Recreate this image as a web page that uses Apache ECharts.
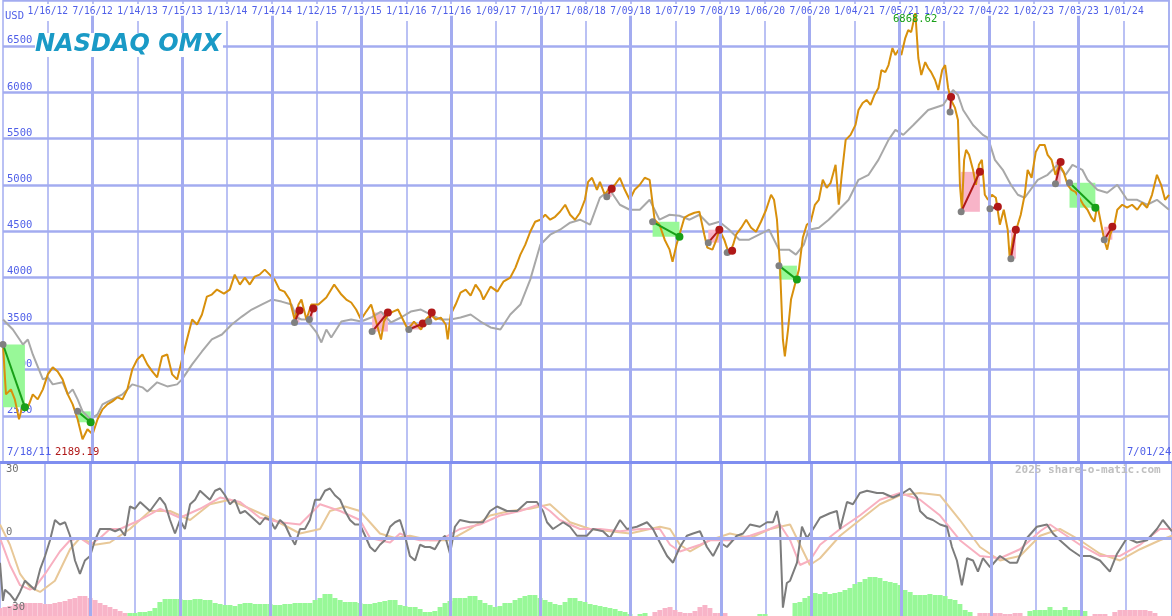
<!DOCTYPE html>
<html><head><meta charset="utf-8">
<script src="https://cdn.jsdelivr.net/npm/echarts@6/dist/echarts.min.js"></script>
<style>html,body{margin:0;padding:0;background:#fff}#c{width:1172px;height:616px}</style>
</head><body><div id="c"></div>
<script>
// x values: days since 7/18/11
const tickLabels = ["","1/16/12","7/16/12","1/14/13","7/15/13","1/13/14","7/14/14","1/12/15","7/13/15","1/11/16","7/11/16","1/09/17","7/10/17","1/08/18","7/09/18","1/07/19","7/08/19","1/06/20","7/06/20","1/04/21","7/05/21","1/03/22","7/04/22","1/02/23","7/03/23","1/01/24","7/01/24"];
const priceIndex = [[0,3272],[12,2732],[32,2786],[48,2678],[65,2462],[81,2624],[101,2592],[121,2732],[141,2678],[162,2786],[182,2948],[202,3024],[222,2980],[242,2894],[263,2732],[283,2624],[303,2462],[323,2246],[343,2354],[364,2300],[384,2462],[404,2570],[424,2624],[444,2656],[465,2700],[485,2678],[505,2786],[525,3002],[545,3110],[566,3164],[586,3056],[606,2980],[626,2916],[646,3142],[667,3164],[687,2948],[707,2894],[727,3110],[747,3326],[768,3542],[788,3488],[808,3596],[828,3790],[848,3812],[869,3866],[897,3823],[921,3866],[941,4028],[962,3920],[982,3996],[1002,3920],[1022,4006],[1042,4028],[1063,4082],[1083,4028],[1103,3974],[1123,3866],[1143,3844],[1164,3758],[1184,3542],[1200,3704],[1212,3758],[1232,3542],[1252,3704],[1281,3704],[1313,3780],[1345,3920],[1374,3812],[1394,3758],[1414,3726],[1434,3650],[1454,3542],[1475,3628],[1495,3704],[1515,3520],[1535,3326],[1547,3520],[1563,3596],[1584,3628],[1604,3650],[1624,3542],[1644,3434],[1669,3520],[1697,3434],[1717,3542],[1737,3596],[1757,3542],[1778,3563],[1798,3488],[1806,3326],[1818,3596],[1838,3704],[1858,3834],[1879,3866],[1899,3801],[1919,3920],[1939,3844],[1951,3758],[1980,3898],[2008,3844],[2032,3952],[2060,3996],[2081,4104],[2101,4244],[2121,4352],[2141,4492],[2161,4600],[2182,4622],[2202,4676],[2222,4622],[2242,4654],[2262,4708],[2283,4784],[2303,4676],[2323,4622],[2343,4698],[2363,4838],[2376,5032],[2392,5076],[2412,4946],[2424,5032],[2444,4892],[2464,4968],[2485,5000],[2505,5076],[2525,4946],[2545,4838],[2565,4946],[2586,5000],[2606,5076],[2626,5054],[2646,4622],[2666,4568],[2687,4406],[2707,4298],[2719,4168],[2735,4352],[2747,4460],[2767,4644],[2788,4676],[2808,4698],[2828,4708],[2848,4460],[2860,4320],[2881,4298],[2897,4406],[2909,4514],[2929,4406],[2949,4244],[2965,4352],[2977,4460],[2998,4536],[3018,4622],[3038,4536],[3058,4492],[3078,4600],[3099,4730],[3119,4892],[3131,4838],[3143,4622],[3155,4136],[3167,3326],[3175,3142],[3188,3434],[3200,3758],[3216,3920],[3232,4082],[3248,4428],[3264,4568],[3280,4600],[3297,4784],[3313,4838],[3329,5054],[3345,4968],[3361,5022],[3381,5216],[3394,4784],[3406,5108],[3422,5486],[3442,5540],[3462,5648],[3474,5810],[3491,5886],[3507,5918],[3523,5864],[3539,5972],[3555,6048],[3567,6242],[3583,6220],[3596,6296],[3612,6480],[3624,6404],[3636,6458],[3648,6404],[3664,6588],[3676,6674],[3688,6652],[3705,6858],[3717,6372],[3729,6188],[3745,6328],[3757,6264],[3769,6220],[3785,6134],[3798,6026],[3814,6242],[3826,6296],[3838,6048],[3850,5918],[3866,5832],[3878,5702],[3886,5000],[3894,4730],[3903,5270],[3911,5378],[3923,5324],[3939,5162],[3951,5000],[3963,5216],[3975,5270],[3987,4892],[4000,4838],[4016,4892],[4032,4860],[4048,4568],[4064,4730],[4080,4514],[4088,4212],[4101,4406],[4117,4536],[4133,4676],[4149,4892],[4161,5162],[4177,5076],[4194,5356],[4210,5432],[4230,5432],[4242,5324],[4258,5270],[4274,5108],[4290,5216],[4307,5140],[4323,5000],[4339,4946],[4355,4924],[4371,4860],[4387,4784],[4404,4730],[4420,4644],[4432,4600],[4444,4784],[4460,4568],[4472,4406],[4484,4298],[4496,4460],[4513,4568],[4525,4730],[4545,4784],[4565,4752],[4585,4784],[4606,4730],[4626,4806],[4646,4752],[4666,4892],[4686,5108],[4703,5000],[4719,4838],[4735,4892]];
const benchmark = [[0,3542],[40,3434],[81,3272],[101,3326],[121,3164],[162,2894],[182,2916],[202,2840],[242,2862],[263,2732],[283,2786],[303,2678],[323,2548],[356,2462],[384,2516],[404,2624],[444,2678],[485,2732],[525,2840],[566,2808],[586,2764],[626,2862],[667,2818],[707,2840],[727,2894],[768,3056],[808,3196],[848,3326],[889,3380],[929,3488],[970,3574],[1010,3650],[1050,3704],[1091,3758],[1131,3736],[1172,3704],[1192,3564],[1212,3542],[1232,3542],[1273,3402],[1293,3294],[1313,3434],[1333,3348],[1374,3520],[1414,3542],[1454,3520],[1495,3564],[1535,3628],[1576,3510],[1616,3564],[1656,3628],[1697,3650],[1737,3596],[1778,3542],[1818,3542],[1858,3564],[1899,3596],[1939,3520],[1980,3456],[2020,3434],[2060,3596],[2101,3704],[2141,3974],[2182,4352],[2222,4460],[2262,4514],[2303,4590],[2343,4622],[2384,4568],[2424,4860],[2464,4946],[2505,4784],[2545,4730],[2586,4730],[2626,4838],[2666,4622],[2707,4676],[2747,4665],[2788,4622],[2828,4676],[2868,4568],[2909,4600],[2949,4514],[2990,4406],[3030,4406],[3070,4460],[3111,4514],[3151,4298],[3192,4298],[3220,4244],[3252,4352],[3272,4514],[3313,4536],[3353,4622],[3394,4730],[3414,4784],[3434,4838],[3474,5054],[3515,5108],[3555,5270],[3596,5486],[3624,5594],[3656,5540],[3697,5648],[3757,5810],[3818,5864],[3858,6026],[3878,5972],[3899,5810],[3939,5648],[3979,5540],[4000,5508],[4028,5270],[4060,5162],[4093,5000],[4121,4892],[4149,4860],[4202,5054],[4242,5108],[4282,5216],[4315,5108],[4343,5216],[4383,5162],[4404,5054],[4444,4946],[4484,4914],[4525,5000],[4565,4838],[4606,4838],[4646,4784],[4686,4838],[4735,4730]];
const oscillator = [[0,-11],[12,-28],[20,-23],[40,-25],[61,-28],[81,-24],[101,-19],[121,-21],[141,-23],[162,-14],[182,-8],[202,-1],[222,8],[242,6],[263,7],[283,1],[303,-10],[323,-16],[343,-10],[364,-8],[384,-1],[404,4],[424,4],[444,4],[465,3],[485,4],[505,1],[525,14],[545,13],[566,16],[586,14],[606,12],[626,15],[646,18],[667,15],[687,8],[707,2],[727,8],[747,4],[768,15],[788,17],[808,21],[828,19],[848,17],[869,21],[889,22],[909,19],[929,15],[949,17],[970,11],[990,12],[1010,10],[1030,8],[1050,6],[1071,9],[1091,8],[1111,4],[1131,8],[1151,6],[1172,1],[1192,-3],[1212,4],[1232,4],[1252,8],[1273,17],[1293,17],[1313,21],[1333,22],[1353,19],[1374,17],[1394,12],[1414,8],[1434,6],[1454,6],[1475,1],[1495,-4],[1515,-6],[1535,-3],[1555,-1],[1576,5],[1596,7],[1616,8],[1636,1],[1656,-8],[1677,-10],[1697,-3],[1717,-4],[1737,-4],[1757,-5],[1778,-1],[1798,1],[1818,-7],[1838,5],[1858,8],[1899,7],[1951,7],[1980,12],[2008,14],[2048,12],[2089,12],[2129,16],[2169,16],[2194,12],[2210,7],[2234,4],[2275,7],[2303,5],[2331,1],[2371,1],[2396,4],[2436,3],[2464,0],[2505,8],[2533,4],[2573,5],[2614,7],[2638,4],[2666,-2],[2695,-8],[2719,-11],[2747,-4],[2775,1],[2800,2],[2828,3],[2856,-4],[2881,-8],[2909,-2],[2937,-4],[2977,1],[3002,2],[3030,6],[3070,5],[3099,7],[3123,7],[3139,12],[3151,5],[3163,-31],[3179,-20],[3192,-19],[3220,-11],[3240,5],[3260,0],[3285,4],[3313,9],[3353,11],[3381,12],[3394,4],[3422,16],[3446,15],[3474,20],[3503,21],[3543,20],[3567,20],[3608,18],[3648,20],[3676,22],[3705,18],[3717,12],[3745,9],[3769,8],[3798,6],[3826,5],[3846,-4],[3866,-10],[3886,-21],[3907,-9],[3931,-10],[3951,-15],[3971,-9],[4000,-13],[4040,-8],[4080,-11],[4109,-11],[4149,0],[4189,5],[4230,6],[4254,2],[4282,-1],[4323,-5],[4363,-8],[4404,-8],[4444,-10],[4484,-15],[4513,-7],[4553,0],[4593,-2],[4634,-1],[4674,4],[4698,8],[4735,3]];
const fastAvg = [[0,0],[40,-12],[81,-21],[121,-23],[141,-22],[182,-16],[242,-6],[283,-1],[323,0],[364,-3],[404,0],[444,4],[485,4],[566,8],[646,13],[727,9],[808,13],[889,18],[970,16],[1050,9],[1131,7],[1212,6],[1293,15],[1374,12],[1454,8],[1495,0],[1535,-1],[1576,-2],[1616,2],[1656,0],[1697,-1],[1778,-1],[1858,4],[1939,6],[2020,10],[2101,12],[2182,15],[2222,12],[2262,8],[2343,4],[2424,4],[2505,3],[2586,4],[2666,4],[2707,-3],[2747,-6],[2828,-3],[2868,-1],[2949,-1],[3030,1],[3111,4],[3151,6],[3192,-1],[3232,-12],[3272,-10],[3313,-3],[3394,4],[3474,10],[3555,17],[3636,20],[3717,17],[3798,10],[3878,-1],[3959,-8],[4040,-9],[4121,-5],[4202,3],[4242,6],[4282,3],[4363,-3],[4444,-8],[4525,-8],[4606,-3],[4686,4],[4735,4]];
const slowAvg = [[0,6],[40,-3],[81,-16],[121,-22],[162,-24],[222,-19],[283,-5],[323,0],[384,-3],[444,-2],[525,4],[606,12],[687,12],[768,8],[848,15],[929,17],[1010,13],[1091,9],[1212,2],[1293,4],[1333,12],[1394,14],[1454,12],[1535,2],[1596,0],[1656,1],[1737,-1],[1818,-1],[1899,4],[1980,10],[2060,12],[2141,13],[2222,15],[2303,7],[2384,4],[2464,3],[2545,2],[2666,5],[2707,4],[2747,-3],[2788,-6],[2868,-1],[2949,2],[3030,0],[3111,4],[3192,6],[3232,-3],[3272,-12],[3313,-9],[3394,1],[3474,8],[3555,15],[3636,19],[3717,20],[3798,19],[3878,8],[3959,-4],[4040,-10],[4121,-8],[4202,1],[4282,4],[4363,-1],[4444,-7],[4525,-10],[4606,-5],[4686,-1],[4735,1]];
const momentum = [[0,-8],[20,-9],[40,-10],[61,-12],[81,-12],[101,-13],[121,-13],[141,-13],[162,-13],[182,-12],[202,-12],[222,-13],[242,-14],[263,-15],[283,-17],[303,-18],[323,-20],[343,-20],[364,-18],[384,-16],[404,-13],[424,-11],[444,-9],[465,-7],[485,-5],[505,-3],[525,3],[545,3],[566,4],[586,4],[606,5],[626,8],[646,14],[667,17],[687,17],[707,17],[727,17],[747,16],[768,16],[788,17],[808,17],[828,16],[848,16],[869,13],[889,12],[909,11],[929,11],[949,10],[970,12],[990,13],[1010,13],[1030,12],[1050,12],[1071,12],[1091,12],[1111,11],[1131,11],[1151,12],[1172,12],[1192,13],[1212,13],[1232,13],[1252,13],[1273,16],[1293,18],[1313,22],[1333,22],[1353,18],[1374,16],[1394,14],[1414,14],[1434,14],[1454,13],[1475,12],[1495,12],[1515,13],[1535,14],[1555,15],[1576,16],[1596,16],[1616,11],[1636,10],[1656,9],[1677,9],[1697,7],[1717,4],[1737,4],[1757,5],[1778,9],[1798,13],[1818,15],[1838,18],[1858,18],[1879,18],[1899,20],[1919,20],[1939,16],[1959,13],[1980,11],[2000,9],[2020,10],[2040,13],[2060,13],[2081,16],[2101,18],[2121,20],[2141,21],[2161,21],[2182,18],[2202,16],[2222,14],[2242,12],[2262,11],[2283,14],[2303,18],[2323,18],[2343,15],[2363,14],[2384,12],[2404,11],[2424,10],[2444,9],[2464,8],[2485,7],[2505,5],[2525,4],[2545,2],[2586,2],[2606,3],[2646,-4],[2666,-6],[2687,-8],[2707,-9],[2727,-6],[2747,-4],[2767,-3],[2788,-3],[2808,-5],[2828,-9],[2848,-11],[2868,-8],[2889,-3],[2909,-3],[2929,-3],[3070,2],[3091,2],[3212,13],[3232,14],[3252,18],[3272,20],[3293,23],[3313,22],[3333,24],[3353,22],[3373,23],[3394,24],[3414,26],[3434,28],[3454,32],[3474,34],[3495,37],[3515,39],[3535,39],[3555,38],[3576,35],[3596,34],[3616,33],[3636,31],[3656,26],[3677,24],[3697,21],[3717,21],[3737,21],[3757,22],[3778,21],[3798,21],[3818,20],[3838,17],[3858,16],[3878,12],[3899,6],[3919,4],[3959,-3],[3979,-3],[4000,-3],[4020,-3],[4040,-3],[4060,-2],[4080,-2],[4101,-3],[4121,-3],[4161,5],[4182,6],[4202,6],[4222,6],[4242,9],[4262,6],[4282,6],[4303,9],[4323,6],[4343,6],[4363,6],[4383,5],[4424,-2],[4444,-2],[4464,-2],[4504,-4],[4525,-6],[4545,-6],[4565,-6],[4585,-6],[4606,-6],[4626,-6],[4646,-5],[4666,-3]];
// signals: [startDay, startValue, endDay, endValue]
const signalsDown = [[0,3272,89,2592],[303,2548,356,2430],[2638,4600,2747,4438],[3151,4125,3224,3974],[4331,5022,4436,4752]];
const signalsUp = [[1184,3510,1204,3640],[1244,3542,1260,3661],[1499,3412,1563,3618],[1648,3434,1705,3499],[1729,3520,1741,3618],[2452,4870,2472,4957],[2864,4374,2909,4514],[2941,4266,2961,4287],[3846,5788,3850,5950],[3891,4708,3967,5140],[4008,4741,4040,4762],[4093,4201,4113,4514],[4274,5011,4295,5248],[4472,4406,4505,4546]];
const yTicks = [2500,3000,3500,4000,4500,5000,5500,6000,6500];

const GRID='#a3acf0', BLUE='#4f5fe8', MONO='"DejaVu Sans Mono", monospace';
const STEP=182, XMAX=4735, YMIN=2000, YMAX=7000, LINE_TOP=6830;
const julyIdx = tickLabels.map((t,i)=>i).filter(i=>i>0 && i<tickLabels.length-1 && i%2===0);
const mlVertMain = {silent:true,symbol:'none',label:{show:false},lineStyle:{color:GRID,width:3,type:'solid'},animation:false,
  data:julyIdx.map(i=>[{coord:[i*STEP,YMIN]},{coord:[i*STEP,LINE_TOP]}])};

const series = [];
series.push({type:'line',name:'bench',xAxisIndex:0,yAxisIndex:0,data:benchmark,showSymbol:false,z:3,lineStyle:{color:'#a8a8a8',width:2},markLine:mlVertMain});
function addSignal(s, up){
  const fill = up ? '#f8b4c8' : '#98f898';
  const col = up ? '#b01818' : '#18a018';
  series.push({type:'line',xAxisIndex:0,yAxisIndex:0,z:5,
    data:[{value:[s[0],s[1]],symbol:'circle',symbolSize:7,itemStyle:{color:'#808080'}},
          {value:[s[2],s[3]],symbol:'circle',symbolSize:8,itemStyle:{color:col}}],
    lineStyle:{color:col,width:2},
    markArea:{silent:true,itemStyle:{color:fill},data:[[{xAxis:s[0],yAxis:Math.min(s[1],s[3])},{xAxis:s[2],yAxis:Math.max(s[1],s[3])}]]}
  });
}
signalsDown.forEach(s=>addSignal(s,false));
signalsUp.forEach(s=>addSignal(s,true));
series.push({type:'line',name:'price',xAxisIndex:0,yAxisIndex:0,data:priceIndex,showSymbol:false,z:4,lineStyle:{color:'#d8900c',width:2}});
series.push({type:'bar',xAxisIndex:1,yAxisIndex:2,barWidth:5,z:2,
  data:momentum.map(d=>({value:[d[0],Math.abs(d[1])],itemStyle:{color:d[1]<0?'#f8b4c8':'#98f898'}}))});
series.push({type:'line',xAxisIndex:1,yAxisIndex:1,data:slowAvg,showSymbol:false,z:3,lineStyle:{color:'#e8c898',width:2}});
series.push({type:'line',xAxisIndex:1,yAxisIndex:1,data:fastAvg,showSymbol:false,z:3,lineStyle:{color:'#f8b0c0',width:2}});
series.push({type:'line',xAxisIndex:1,yAxisIndex:1,data:oscillator,showSymbol:false,z:4,lineStyle:{color:'#7c7c7c',width:2},
  markLine:{silent:true,symbol:'none',label:{show:false},animation:false,data:julyIdx.map(i=>({xAxis:i*STEP})).concat([{yAxis:0}]),lineStyle:{color:GRID,width:3,type:'solid'}}});

const xBase = {type:'value',min:0,max:XMAX,interval:STEP,axisLine:{show:false},axisTick:{show:false},
  splitLine:{show:true,lineStyle:{color:GRID,width:1.5}}};
const option = {
  animation:false,
  backgroundColor:'#fff',
  grid:[{left:0,right:0,top:0,height:462},{left:0,right:0,top:462,bottom:0}],
  xAxis:[
    Object.assign({},xBase,{gridIndex:0,position:'top',axisLabel:{inside:true,margin:4,color:BLUE,fontFamily:MONO,fontSize:9.6,backgroundColor:'#fff',padding:[2,0,5,0],
      formatter:v=>{const i=Math.round(v/STEP);return (i>0&&i<tickLabels.length-1)?tickLabels[i]:'';}}}),
    Object.assign({},xBase,{gridIndex:1,axisLabel:{show:false}})
  ],
  yAxis:[
    {type:'value',gridIndex:0,min:YMIN,max:YMAX,interval:500,axisLine:{show:false},axisTick:{show:false},
     splitLine:{lineStyle:{color:GRID,width:2.5}},
     axisLabel:{inside:true,margin:4,verticalAlign:'bottom',color:BLUE,fontFamily:MONO,fontSize:10.5,
       formatter:v=>yTicks.includes(v)?String(v):''}},
    {type:'value',gridIndex:1,min:-34.7,max:33.8,axisLine:{show:false},axisTick:{show:false},splitLine:{show:false},axisLabel:{show:false}},
    {type:'value',gridIndex:1,min:0,max:154,axisLine:{show:false},axisTick:{show:false},splitLine:{show:false},axisLabel:{show:false}}
  ],
  series:series,
  graphic:[
    {type:'rect',shape:{x:0,y:461,width:1172,height:3},style:{fill:'#7f8ef0'},z:50},
    {type:'text',left:5,top:11,style:{text:'USD',fill:BLUE,font:'10.5px '+MONO},z:60},
    {type:'text',left:35,top:33,style:{text:'NASDAQ OMX',fill:'#1a9ac6',font:'italic bold 24px "DejaVu Sans", Arial',backgroundColor:'#fff',padding:[0,2,0,0]},z:60},
    {type:'text',left:893,top:14,style:{text:'6868.62',fill:'#18a018',font:'10.5px '+MONO},z:60},
    {type:'text',left:7,top:447,style:{text:'7/18/11',fill:BLUE,font:'10.5px '+MONO},z:60},
    {type:'text',left:55,top:447,style:{text:'2189.19',fill:'#b01818',font:'10.5px '+MONO},z:60},
    {type:'text',left:1127,top:447,style:{text:'7/01/24',fill:BLUE,font:'10.5px '+MONO},z:60},
    {type:'text',left:6,top:464,style:{text:'30',fill:'#707070',font:'10.5px '+MONO},z:60},
    {type:'text',left:6,top:527,style:{text:'0',fill:'#707070',font:'10.5px '+MONO},z:60},
    {type:'text',left:6,top:602,style:{text:'-30',fill:'#707070',font:'10.5px '+MONO},z:60},
    {type:'text',left:1015,top:465,style:{text:'2025 share-o-matic.com',fill:'#c0c0c0',font:'bold 11px '+MONO},z:60}
  ]
};
echarts.init(document.getElementById('c')).setOption(option);
</script></body></html>
